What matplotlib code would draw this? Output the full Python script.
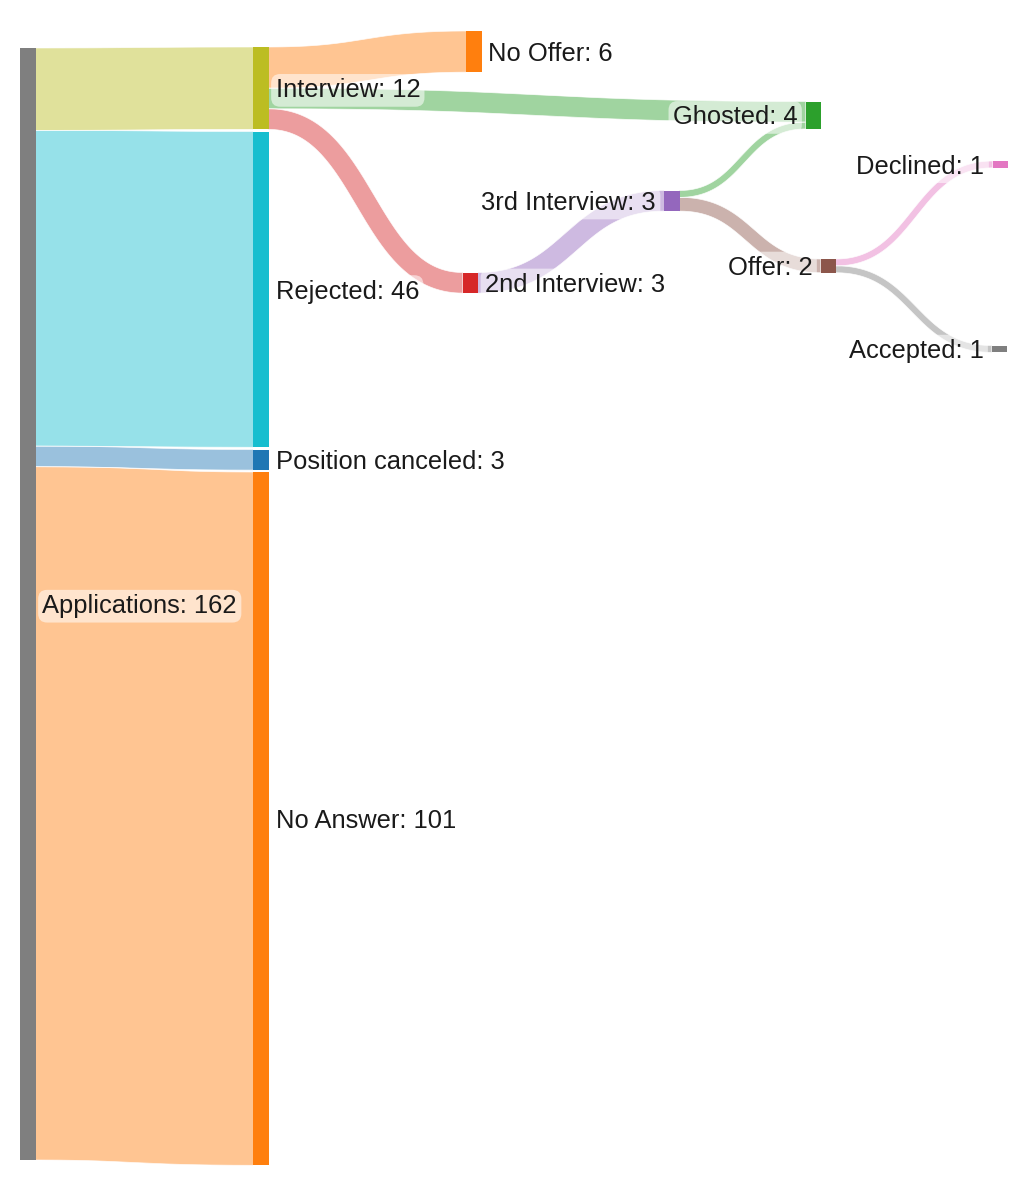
import matplotlib
matplotlib.use("Agg")
import numpy as np
import matplotlib.pyplot as plt
from matplotlib.patches import Polygon, Rectangle
from matplotlib.colors import to_rgba

# ---------------- data ----------------
node_labels = ["Applications", "Interview", "Rejected", "Position canceled",
               "No Answer", "No Offer", "Ghosted", "2nd Interview",
               "3rd Interview", "Offer", "Declined", "Accepted"]
node_colors = ["#7f7f7f", "#bcbd22", "#17becf", "#1f77b4", "#ff7f0e",
               "#ff7f0e", "#2ca02c", "#d62728", "#9467bd", "#8c564b",
               "#e377c2", "#7f7f7f"]

link_source = ["Applications", "Applications", "Applications", "Applications",
               "Interview", "Interview", "Interview", "2nd Interview",
               "3rd Interview", "3rd Interview", "Offer", "Offer"]
link_target = ["Interview", "Rejected", "Position canceled", "No Answer",
               "No Offer", "Ghosted", "2nd Interview", "3rd Interview",
               "Ghosted", "Offer", "Declined", "Accepted"]
link_values = [12, 46, 3, 101, 6, 3, 3, 3, 1, 2, 1, 1]

# ---------------- layout (pixels) ----------------
node_left = {"Applications": 20, "Interview": 253, "Rejected": 253,
             "Position canceled": 253, "No Answer": 253, "No Offer": 466,
             "Ghosted": 805.5, "2nd Interview": 462.5, "3rd Interview": 664,
             "Offer": 820.5, "Declined": 992.5, "Accepted": 991.5}
node_top = {"Applications": 48, "Interview": 47, "Rejected": 131.5,
            "Position canceled": 449.5, "No Answer": 472, "No Offer": 31,
            "Ghosted": 101.5, "2nd Interview": 272.5, "3rd Interview": 190.5,
            "Offer": 259, "Declined": 161, "Accepted": 345.5}
NODE_W = 15.5
SCALE = 1112 / 162.0  # px per unit
W, H = 1029, 1200
FONT = ["Liberation Sans", "Arial", "DejaVu Sans"]
FS = 18.4

# ---------------- computations ----------------
val_in = {n: 0 for n in node_labels}
val_out = {n: 0 for n in node_labels}
for s, t, v in zip(link_source, link_target, link_values):
    val_out[s] += v
    val_in[t] += v
node_value = {n: max(val_in[n], val_out[n]) for n in node_labels}
color_of = dict(zip(node_labels, node_colors))

def center(n):
    return node_top[n] + node_value[n] * SCALE / 2

links = list(zip(link_source, link_target, link_values))
src_off, tgt_off = {}, {}
for n in node_labels:
    outs = sorted([l for l in links if l[0] == n], key=lambda l: center(l[1]))
    y = node_top[n]
    for l in outs:
        src_off[l] = y
        y += l[2] * SCALE
    ins = sorted([l for l in links if l[1] == n], key=lambda l: center(l[0]))
    y = node_top[n]
    for l in ins:
        tgt_off[l] = y
        y += l[2] * SCALE

fig = plt.figure(figsize=(W / 100, H / 100), dpi=100)
ax = fig.add_axes([0, 0, 1, 1])
ax.set_xlim(0, W)
ax.set_ylim(H, 0)
ax.axis("off")

# links: constant-thickness ribbon around a horizontal-tangent cubic bezier
t = np.linspace(0, 1, 160)
for l in links:
    s, tg, v = l
    x0 = node_left[s] + NODE_W
    x1 = node_left[tg]
    h = v * SCALE
    ya = src_off[l] + h / 2
    yb = tgt_off[l] + h / 2
    xm = x0 + 0.5 * (x1 - x0)
    P = np.array([[x0, ya], [xm, ya], [xm, yb], [x1, yb]])
    B = ((1 - t) ** 3)[:, None] * P[0] + (3 * (1 - t) ** 2 * t)[:, None] * P[1] \
        + (3 * (1 - t) * t ** 2)[:, None] * P[2] + (t ** 3)[:, None] * P[3]
    D = (3 * (1 - t) ** 2)[:, None] * (P[1] - P[0]) \
        + (6 * (1 - t) * t)[:, None] * (P[2] - P[1]) \
        + (3 * t ** 2)[:, None] * (P[3] - P[2])
    nrm = np.stack([-D[:, 1], D[:, 0]], axis=1)
    nrm /= np.linalg.norm(nrm, axis=1)[:, None]
    upper = B - nrm * h / 2
    lower = B + nrm * h / 2
    poly = np.vstack([upper, lower[::-1]])
    fc = to_rgba(color_of[tg], 0.45)
    ax.add_patch(Polygon(poly, closed=True, facecolor=fc,
                         edgecolor="none", zorder=1))
    for edge in (upper, lower):
        ax.plot(edge[:, 0], edge[:, 1], color=(1, 1, 1, 0.85), lw=0.5,
                zorder=1.1, solid_capstyle="butt")

# nodes
for n in node_labels:
    ax.add_patch(Rectangle((node_left[n], node_top[n]), NODE_W,
                           node_value[n] * SCALE, facecolor=color_of[n],
                           edgecolor="none", zorder=2))

# labels
for n in node_labels:
    cy = center(n)
    txt = f"{n}: {node_value[n]}"
    if node_left[n] > W / 2:
        x, ha = node_left[n] - 8, "right"
    else:
        x, ha = node_left[n] + NODE_W + 7, "left"
    ax.text(x, cy + 9.2, txt, ha=ha, va="baseline", fontsize=FS,
            family=FONT, color="#1a1a1a", zorder=3,
            bbox=dict(boxstyle="round,pad=0.17,rounding_size=0.35",
                      fc=(1, 1, 1, 0.55), ec="none"))

fig.savefig("out.png", dpi=100)
